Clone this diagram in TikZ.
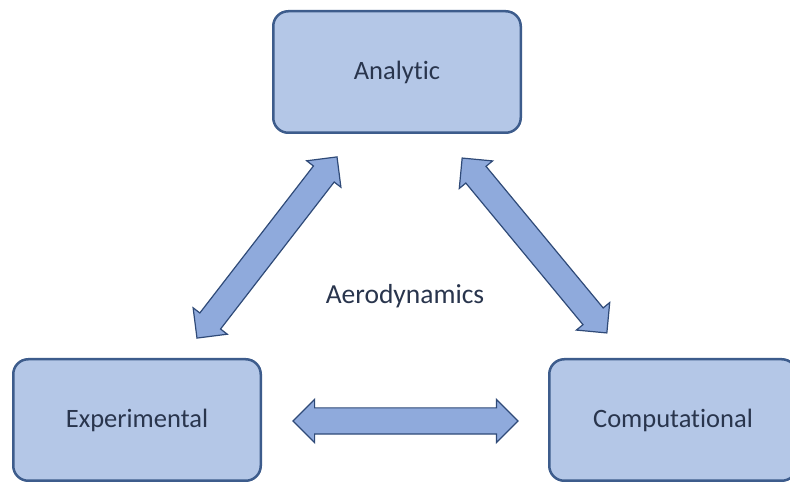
\documentclass[tikz,border=0pt]{standalone}
\usepackage{fontspec}
\setmainfont[Ligatures=NoCommon]{Carlito}
\usetikzlibrary{shapes.arrows}

\definecolor{boxfill}{HTML}{B4C7E7}
\definecolor{boxline}{HTML}{3D5C8C}
\definecolor{arrfill}{HTML}{8FAADC}
\definecolor{arrline}{HTML}{2F4A78}
\definecolor{txtcol}{HTML}{29354D}

\tikzset{
  fieldbox/.style={draw=boxline, fill=boxfill, line width=2.5pt, rounded corners=15pt,
    minimum width=247.5pt, minimum height=121.5pt, text=txtcol,
    font=\fontsize{26.5}{30}\selectfont},
  linkarrow/.style={double arrow, draw=arrline, fill=arrfill, line width=1.2pt,
    minimum width=43pt, double arrow head extend=8.5pt, double arrow tip angle=90,
    inner xsep=0pt, inner ysep=12.5pt},
}

\begin{document}
\begin{tikzpicture}[x=1pt, y=1pt]
    \useasboundingbox[fill=white] (0,0) rectangle (790,482);

    % Las tres cajas
    \node[fieldbox] (analytic) at (397,410) {Analytic};
    \node[fieldbox] (experimental) at (137,62) {Experimental};
    \node[fieldbox] (computational) at (673,62) {Computational};

    % Texto central
    \node[text=txtcol, font=\fontsize{27.5}{30}\selectfont] (aero) at (405,186) {Aerodynamics};

    % Flechas dobles
    \node[linkarrow, minimum height=229pt, rotate=52.3] (arrEA) at (267,234.5) {};
    \node[linkarrow, minimum height=227pt, rotate=-50.4] (arrAC) at (534.5,236.5) {};
    \node[linkarrow, minimum height=225pt] (arrEC) at (405.5,61) {};

\end{tikzpicture}
\end{document}
